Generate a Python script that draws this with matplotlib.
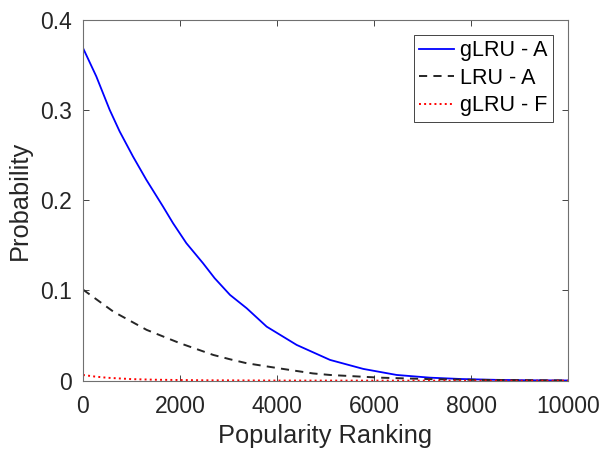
import matplotlib
matplotlib.use('Agg')
import matplotlib.pyplot as plt

plt.rcParams['font.family'] = ['Liberation Sans', 'DejaVu Sans']

# values
rank_a = [0, 275, 550, 756, 1031, 1306, 1650, 1856, 2131, 2474, 2715, 3031, 3375,
          3787, 4406, 5093, 5780, 6468, 7155, 7800, 8500, 9200, 10000]
glru_a = [0.369, 0.3374, 0.3004, 0.2764, 0.2486, 0.2228, 0.1931, 0.1747, 0.1525, 0.1303,
          0.1136, 0.0951, 0.0803, 0.0599, 0.0396, 0.0230, 0.0130, 0.0063, 0.0033,
          0.0018, 0.0009, 0.0004, 0.0002]

rank_l = [0, 625, 1313, 2000, 2687, 3031, 3375, 4062, 4742, 5093, 6124, 7155, 8200, 10000]
lru_a = [0.101, 0.0766, 0.0563, 0.0415, 0.0285, 0.0237, 0.0193, 0.0135, 0.0080, 0.0063,
         0.0033, 0.0017, 0.0008, 0.0002]

rank_f = [0, 250, 500, 1000, 1500, 2500, 4000, 6000, 10000]
glru_f = [0.0063, 0.0045, 0.0032, 0.0017, 0.001, 0.0004, 0.0001, 0.0, 0.0]

gray = '#262626'

fig = plt.figure(figsize=(6.03, 4.51), dpi=100)
ax = fig.add_axes([0.1376, 0.156, 0.8044, 0.7997])

ax.plot(rank_a, glru_a, color='#0000ff', lw=1.3, label='gLRU - A')
ax.plot(rank_l, lru_a, color='#262626', lw=1.4, dashes=(4.2, 3.2), label='LRU - A')
ax.plot(rank_f, glru_f, color='#ff0000', lw=1.4, linestyle=':', label='gLRU - F')

ax.set_xlim(0, 10000)
ax.set_ylim(0, 0.4)
ax.set_xticks([0, 2000, 4000, 6000, 8000, 10000])
ax.set_yticks([0, 0.1, 0.2, 0.3, 0.4])
ax.set_yticklabels(['0', '0.1', '0.2', '0.3', '0.4'])
ax.tick_params(direction='in', top=True, right=True, labelsize=16.5, colors=gray,
               length=4, width=0.6)
ax.tick_params(axis='x', pad=10)
ax.tick_params(axis='y', pad=8)
for s in ax.spines.values():
    s.set_color('#707070')
    s.set_linewidth(0.8)

ax.set_xlabel('Popularity Ranking', fontsize=18.3, color=gray, labelpad=5)
ax.set_ylabel('Probability', fontsize=18.3, color=gray, labelpad=6)

leg = ax.legend(loc='upper right', fontsize=15.5, fancybox=False, framealpha=1,
                edgecolor=gray, borderpad=0.25, labelspacing=0.3,
                handlelength=1.6, handletextpad=0.3, borderaxespad=0.7)
leg.get_frame().set_linewidth(0.6)

fig.savefig('out.png', dpi=100)
